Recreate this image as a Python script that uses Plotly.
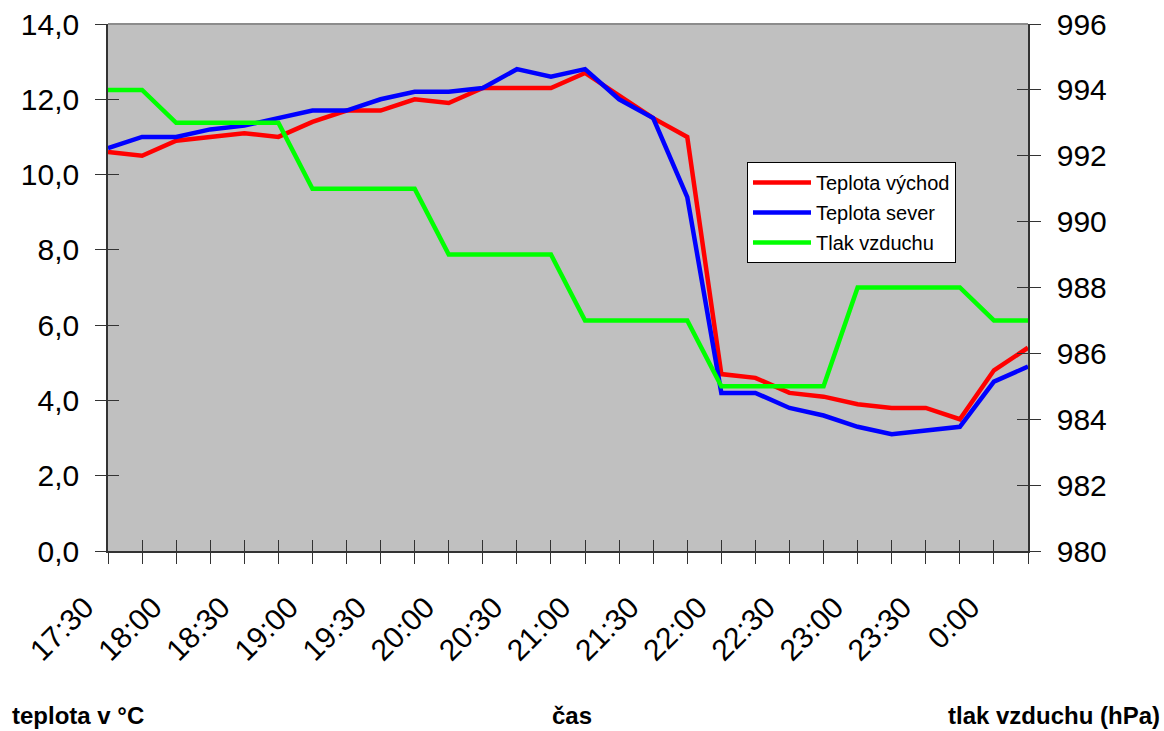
import plotly.graph_objects as go

# 15-minute readings, 17:30 .. 0:15
times = ["17:30", "17:45", "18:00", "18:15", "18:30", "18:45", "19:00", "19:15",
         "19:30", "19:45", "20:00", "20:15", "20:30", "20:45", "21:00", "21:15",
         "21:30", "21:45", "22:00", "22:15", "22:30", "22:45", "23:00", "23:15",
         "23:30", "23:45", "0:00", "0:15"]

teplota_vychod = [10.6, 10.5, 10.9, 11.0, 11.1, 11.0, 11.4, 11.7, 11.7, 12.0,
                  11.9, 12.3, 12.3, 12.3, 12.7, 12.1, 11.5, 11.0, 4.7, 4.6,
                  4.2, 4.1, 3.9, 3.8, 3.8, 3.5, 4.8, 5.4]

teplota_sever = [10.7, 11.0, 11.0, 11.2, 11.3, 11.5, 11.7, 11.7, 12.0, 12.2,
                 12.2, 12.3, 12.8, 12.6, 12.8, 12.0, 11.5, 9.4, 4.2, 4.2,
                 3.8, 3.6, 3.3, 3.1, 3.2, 3.3, 4.5, 4.9]

tlak_vzduchu = [994, 994, 993, 993, 993, 993, 991, 991, 991, 991,
                989, 989, 989, 989, 987, 987, 987, 987, 985, 985,
                985, 985, 988, 988, 988, 988, 987, 987]

# every second time gets a label, every reading gets a tick
tick_text = [t if i % 2 == 0 else "" for i, t in enumerate(times)]

FONT = "Liberation Sans, Arial, sans-serif"
AXIS_COLOR = "#333333"
TICK_FONT = dict(family=FONT, size=30, color="black")

fig = go.Figure()
fig.add_trace(go.Scatter(x=times, y=teplota_vychod, name="Teplota východ",
                         mode="lines", line=dict(color="#FF0000", width=4.5),
                         legendgroup="a", xaxis="x", yaxis="y"))
fig.add_trace(go.Scatter(x=times, y=teplota_sever, name="Teplota sever",
                         mode="lines", line=dict(color="#0000FF", width=4.5),
                         legendgroup="b", xaxis="x", yaxis="y"))
fig.add_trace(go.Scatter(x=times, y=tlak_vzduchu, name="Tlak vzduchu",
                         mode="lines", line=dict(color="#00FF00", width=4.5),
                         legendgroup="c", xaxis="x", yaxis="y2"))
# empty traces that carry the inner half of the cross ticks
fig.add_trace(go.Scatter(x=[], y=[], xaxis="x2", yaxis="y3", showlegend=False,
                         hoverinfo="skip"))
fig.add_trace(go.Scatter(x=[], y=[], xaxis="x2", yaxis="y4", showlegend=False,
                         hoverinfo="skip"))

n = len(times)
common_tick = dict(ticklen=11, tickwidth=1, tickcolor=AXIS_COLOR, automargin=False)

fig.update_layout(
    width=1164, height=731,
    margin=dict(l=108, r=136, t=24, b=180),
    paper_bgcolor="white",
    plot_bgcolor="#C0C0C0",
    separators=", ",
    font=dict(family=FONT, color="black"),
    showlegend=True,
    legend=dict(x=(747 - 108) / 920, y=(551 - 162) / 527, xanchor="left", yanchor="top",
                bgcolor="white", bordercolor="black", borderwidth=1,
                font=dict(family=FONT, size=20, color="black"),
                traceorder="grouped", tracegroupgap=1, itemwidth=58,
                entrywidth=160),
    xaxis=dict(type="category", range=[0, n - 1], tickmode="array",
               tickvals=times, ticktext=tick_text, tickangle=-45,
               ticks="outside", showgrid=False, zeroline=False,
               showline=True, linecolor=AXIS_COLOR, linewidth=1.5,
               tickfont=TICK_FONT, anchor="y", ticklabelstandoff=14,
               ticklabelshift=-23, **common_tick),
    xaxis2=dict(type="linear", range=[0, n - 1], tickmode="linear", tick0=0, dtick=1,
                ticks="inside", showticklabels=False, showgrid=False,
                zeroline=False, showline=False, overlaying="x", anchor="y",
                **common_tick),
    yaxis=dict(range=[0, 14], tickmode="linear", tick0=0, dtick=2,
               tickformat=".1f", ticks="outside", showgrid=False, zeroline=False,
               showline=True, linecolor=AXIS_COLOR, linewidth=1.5,
               tickfont=TICK_FONT, anchor="x", ticklabelstandoff=10, **common_tick),
    yaxis2=dict(range=[980, 996], tickmode="linear", tick0=980, dtick=2,
                ticks="outside", showgrid=False, zeroline=False,
                showline=True, linecolor=AXIS_COLOR, linewidth=1.5,
                tickfont=TICK_FONT, overlaying="y", side="right", anchor="x",
                ticklabelstandoff=10, **common_tick),
    yaxis3=dict(range=[0, 14], tickmode="linear", tick0=0, dtick=2,
                ticks="inside", showticklabels=False, showgrid=False,
                zeroline=False, showline=False, overlaying="y", side="left",
                anchor="x2", **common_tick),
    yaxis4=dict(range=[980, 996], tickmode="linear", tick0=980, dtick=2,
                ticks="inside", showticklabels=False, showgrid=False,
                zeroline=False, showline=False, overlaying="y", side="right",
                anchor="x2", **common_tick),
    shapes=[dict(type="line", xref="paper", yref="paper", x0=0, x1=1, y0=1, y1=1,
                 line=dict(color="#8C8C8C", width=2))],
)

title_font = dict(family=FONT, size=24, color="black")
fig.add_annotation(text="<b>teplota v °C</b>", xref="paper", yref="paper",
                   x=-98 / 920, y=-(715 - 551) / 527, xanchor="left", yanchor="middle",
                   showarrow=False, font=title_font)
fig.add_annotation(text="<b>čas</b>", xref="paper", yref="paper",
                   x=(572 - 108) / 920, y=-180 / 527, xanchor="center",
                   yanchor="bottom", showarrow=False, font=title_font)
fig.add_annotation(text="<b>tlak vzduchu (hPa)</b>", xref="paper", yref="paper",
                   x=(1162 - 108) / 920, y=-(715 - 551) / 527, xanchor="right",
                   yanchor="middle", showarrow=False, font=title_font)

fig.write_html("out.html")
